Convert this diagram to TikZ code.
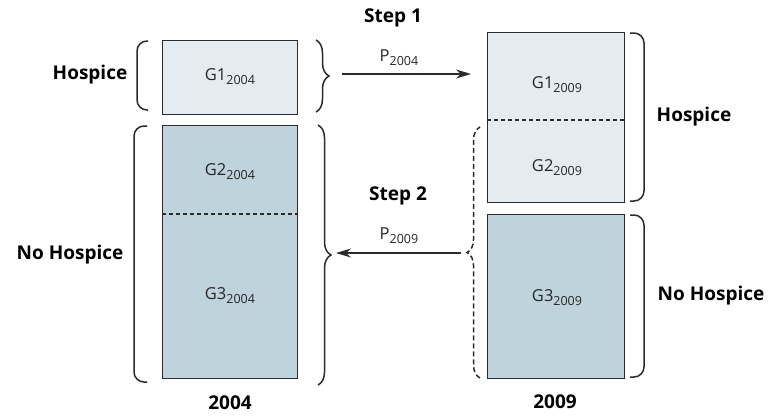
\documentclass[tikz,border=0pt]{standalone}
\usepackage{fontspec}
\setmainfont{Open Sans}
\usetikzlibrary{arrows.meta,decorations.pathreplacing}
\definecolor{lightfill}{HTML}{E4ECF2}
\definecolor{darkfill}{HTML}{BFD3DC}
\definecolor{edge}{HTML}{2B2B2B}
% lowered year index, a little larger than a plain subscript
\newcommand{\yr}[1]{\raisebox{-0.45ex}{\fontsize{12.5}{14}\selectfont #1}}
\tikzset{
  boxbase/.style={draw=edge, line width=1.4pt, inner sep=0pt, anchor=north west},
  lightbox/.style={boxbase, fill=lightfill},
  darkbox/.style={boxbase, fill=darkfill},
  grouplabel/.style={font=\fontsize{16.5}{20}\selectfont, text=black!85},
  sidelabel/.style={font=\fontsize{19}{22}\selectfont\bfseries},
  divider/.style={line width=1.2pt, dash pattern=on 4pt off 3pt, draw=edge},
  bracketline/.style={line width=1.5pt, draw=edge, rounded corners=10pt},
  curly/.style={line width=1.5pt, draw=edge, decorate, decoration={brace, amplitude=13pt}},
  flow/.style={line width=1.4pt, draw=edge, -{Stealth[length=15pt,width=9pt]}}
}
\begin{document}
\begin{tikzpicture}[x=1pt, y=-1pt]
\useasboundingbox (0,0) rectangle (770,416);

% 2004 column
\node[lightbox, minimum width=135pt, minimum height=74pt] (b04top) at (162,40) {};
\node[darkbox, minimum width=135pt, minimum height=253pt] (b04bot) at (162,125) {};
\draw[divider] (162,214) -- (297,214);
\node[grouplabel] (g1a) at (230,77) {G1\yr{2004}};
\node[grouplabel] (g2a) at (230,172) {G2\yr{2004}};
\node[grouplabel] (g3a) at (230,296) {G3\yr{2004}};
\node[sidelabel] (yr04) at (230,403) {2004};

% 2009 column
\node[lightbox, minimum width=137pt, minimum height=170pt] (b09top) at (487,32) {};
\node[darkbox, minimum width=137pt, minimum height=164pt] (b09bot) at (487,214) {};
\draw[divider] (487,120) -- (624,120);
\node[grouplabel] (g1b) at (557,85) {G1\yr{2009}};
\node[grouplabel] (g2b) at (557,168) {G2\yr{2009}};
\node[grouplabel] (g3b) at (557,298) {G3\yr{2009}};
\node[sidelabel] (yr09) at (555,402) {2009};

% outer brackets
\draw[bracketline] (148,41) -- (137,41) -- (137,110) -- (148,110);
\draw[bracketline] (147,126) -- (134,126) -- (134,382) -- (147,382);
\draw[bracketline] (630,33) -- (644,33) -- (644,201) -- (630,201);
\draw[bracketline] (630,215) -- (644,215) -- (644,377) -- (630,377);

% side labels
\node[sidelabel] (hosA) at (90,75) {Hospice};
\node[sidelabel] (nohA) at (70,255) {No Hospice};
\node[sidelabel] (hosB) at (694,117) {Hospice};
\node[sidelabel] (nohB) at (711,296) {No Hospice};

% curly braces feeding the arrows
\draw[curly] (316,40) -- (316,112);
\coordinate (tip1) at (342,74);
\draw[curly] (318,125) -- (318,385);
\coordinate (tip2) at (336,253);
\draw[curly, dash pattern=on 5pt off 3pt] (480,378) -- (480,127);
\coordinate (tip3) at (461,253);
\coordinate (end1) at (471,74);

% transitions
\draw[flow] (tip1) -- (end1);
\draw[flow] (tip3) -- (tip2);
\node[sidelabel] (step1) at (393,18) {Step 1};
\node[grouplabel] (p04) at (399,58) {P\yr{2004}};
\node[sidelabel] (step2) at (398,196) {Step 2};
\node[grouplabel] (p09) at (399,236) {P\yr{2009}};
\end{tikzpicture}
\end{document}
